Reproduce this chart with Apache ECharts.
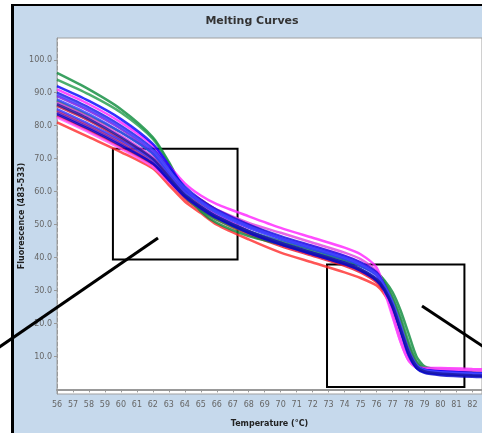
<!DOCTYPE html>
<html>
<head>
<meta charset="utf-8">
<script src="https://cdn.jsdelivr.net/npm/echarts@6/dist/echarts.min.js"></script>
<style>
  html, body { margin: 0; padding: 0; background: #fff; }
  #panel { position: absolute; left: 11px; top: 4px; width: 480px; height: 440px;
           background: #c6d9ec; border-left: 3px solid #000; border-top: 2px solid #000; }
  #chart { position: absolute; left: 0; top: 0; width: 482px; height: 433px; }
</style>
</head>
<body>
<div id="panel"></div>
<div id="chart"></div>
<script>
// temperature points (°C) shared by every curve
const temps = [56, 58, 60, 62, 63, 64, 65, 66, 68, 70, 72, 74, 75, 76, 76.5, 77, 77.5, 78, 78.5, 79, 80, 82, 84];

// fluorescence readings per sample
const red3     = [81, 76.5, 72, 67, 62, 57, 53.5, 50, 45.5, 41.5, 38.5, 35.5, 33.8, 31.5, 28.8, 24.5, 18, 11.5, 7, 5.5, 5, 4.6, 4.4];
const red2     = [83, 78.5, 73.5, 68, 63, 58, 54.5, 51.5, 47, 43.5, 40.5, 37.5, 35.5, 32.5, 29.5, 25, 18.5, 12, 7.5, 6, 5.5, 5, 4.8];
const red1     = [84.5, 80, 75, 69, 64, 59.5, 56, 53, 48, 44, 41, 38, 36, 33, 30, 25, 18.5, 11.5, 7, 5.5, 5, 4.6, 4.4];
const crimson  = [86, 81.5, 76, 70, 65, 60.5, 57.5, 54.5, 50, 46, 43, 40, 38, 34.8, 31, 26, 19, 12, 7.5, 6, 5.5, 5, 4.8];
const green1   = [96, 91, 85, 76.5, 69, 60, 54, 50.5, 46.5, 44, 41.5, 39, 37.5, 35.5, 33, 29.5, 24, 17, 10, 7, 6, 5.5, 5.2];
const green2   = [94, 89.5, 84, 76, 68.5, 60, 54.5, 51.5, 47.5, 44.5, 42, 39.5, 37.5, 35.5, 32.5, 28, 22, 14.5, 8.5, 6.5, 5.5, 5, 4.8];
const green3   = [87.5, 83, 78, 71.5, 65, 58.5, 54.5, 52, 48, 45, 42.5, 39.5, 37.5, 35, 32, 27.5, 21, 13.5, 8.2, 6.2, 5.5, 5, 4.8];
const magenta1 = [91, 86.5, 81, 74, 68, 62.5, 58.8, 56.2, 52.5, 49, 46, 43, 41, 37, 30.5, 22.5, 14.5, 8.8, 7, 6.5, 6.5, 6.2, 6];
const magenta2 = [87, 82.5, 77, 70.5, 65, 60, 57, 54.5, 50.5, 47.5, 44.5, 41.5, 39.5, 35.8, 30.5, 23.5, 15.5, 9, 6.5, 6, 6, 5.8, 5.5];
const magenta3 = [82.5, 78, 73, 67.5, 63, 58.5, 55.5, 53, 49, 46, 43.5, 40.5, 38.5, 35, 29.5, 22, 14.5, 8.8, 6.5, 6, 6, 5.8, 5.6];
const purple1  = [89, 84.5, 79, 72, 66, 60.5, 57, 54, 49.5, 46, 43, 40, 38, 35, 31, 25.5, 18, 10.5, 6.8, 6, 5.5, 5, 4.8];
const purple2  = [84, 79.5, 74.5, 68.5, 63.5, 58.5, 55, 52, 47.5, 44, 41, 38, 36, 33, 30, 25, 18, 11, 7, 5.5, 5, 4.5, 4.3];
const blue1    = [92, 87.5, 82, 74.5, 68, 61, 57, 54, 49.5, 46, 43, 40, 38, 35, 31.5, 26, 18.5, 11.5, 7.2, 6, 5.5, 5, 4.7];
const blue2    = [90, 85.5, 80, 73, 67, 61.5, 57.5, 54.5, 50, 46.5, 43.5, 40.5, 38.5, 35.5, 31.5, 25.5, 18, 10.5, 6.5, 5.3, 4.8, 4.4, 4.2];
const blue3    = [88, 83.5, 78, 71.5, 65.5, 60, 56.5, 53.5, 49, 45.5, 42.5, 39.5, 37.5, 34.5, 31, 26, 19, 11.5, 7.2, 5.8, 5.2, 4.8, 4.5];
const blue4    = [85, 80.5, 75.5, 69.5, 64, 59, 55.5, 52.5, 48, 44.5, 41.5, 38.5, 36.5, 33.5, 30.5, 25.5, 18.5, 11.5, 7, 5.3, 4.6, 4.2, 4];
const blue5    = [83.5, 79, 74, 68.5, 63.5, 58.5, 55, 52, 47.5, 44, 41, 38, 36, 33, 30, 25, 18, 11, 6.5, 5, 4.3, 3.8, 3.6];
const blue6    = [89.5, 85, 79.5, 72.5, 66.5, 61, 57, 54, 49.5, 46, 43, 40, 38, 35, 31.5, 26.5, 19.5, 12, 7.5, 5.8, 5.2, 4.8, 4.5];
const darkblue = [86.5, 82, 76.5, 70, 64.5, 59, 55.5, 52.5, 48, 44.5, 41.5, 38.5, 36.5, 33.5, 30.5, 25.5, 18.5, 11.5, 7, 5.5, 4.8, 4.3, 4];

// axis ticks
const xTicks = [56, 57, 58, 59, 60, 61, 62, 63, 64, 65, 66, 67, 68, 69, 70, 71, 72, 73, 74, 75, 76, 77, 78, 79, 80, 81, 82];
const yTicks = [10, 20, 30, 40, 50, 60, 70, 80, 90, 100];

// the two zoom boxes drawn over the plot, [tempFrom, fluoTop, tempTo, fluoBottom]
const box1 = [59.5, 73, 67.3, 39.4];
const box2 = [72.9, 37.9, 81.5, 0.7];

const curves = [
  ['red3', red3, '#ff2a2a'], ['red2', red2, '#e8102a'], ['red1', red1, '#ff3030'],
  ['crimson', crimson, '#c8103c'], ['green1', green1, '#0a8a3a'], ['green2', green2, '#1f9a4a'],
  ['green3', green3, '#2a7f4a'], ['magenta1', magenta1, '#ff20ff'], ['magenta2', magenta2, '#e040e0'],
  ['magenta3', magenta3, '#ff50ff'], ['purple1', purple1, '#7a10e0'], ['purple2', purple2, '#6020c0'],
  ['blue1', blue1, '#0000ff'], ['blue2', blue2, '#1010e0'], ['blue3', blue3, '#2a40ff'],
  ['blue4', blue4, '#3030ff'], ['blue5', blue5, '#0000c8'], ['blue6', blue6, '#4848ff'],
  ['darkblue', darkblue, '#1818a0']
];

const chart = echarts.init(document.getElementById('chart'));

const series = curves.map(([name, vals, color]) => ({
  name: name,
  type: 'line',
  data: temps.map((t, i) => [t, vals[i]]),
  symbol: 'none',
  smooth: 0.25,
  lineStyle: { color: color, width: 2.5, opacity: 0.8 },
  silent: true
}));

series.push({
  type: 'line',
  data: [],
  z: 10,
  silent: true,
  markArea: {
    silent: true,
    itemStyle: { color: 'rgba(0,0,0,0)', borderColor: '#000', borderWidth: 2 },
    data: [
      [{ xAxis: box1[0], yAxis: box1[1] }, { xAxis: box1[2], yAxis: box1[3] }],
      [{ xAxis: box2[0], yAxis: box2[1] }, { xAxis: box2[2], yAxis: box2[3] }]
    ]
  }
});

const option = {
  animation: false,
  backgroundColor: 'transparent',
  title: {
    text: 'Melting Curves',
    left: 247,
    top: 11,
    textAlign: 'center',
    textStyle: { fontFamily: 'DejaVu Sans', fontSize: 11, fontWeight: 'bold', color: '#333' }
  },
  grid: {
    left: 57, top: 38, right: 0, bottom: 35,
    show: true, backgroundColor: '#fff', borderColor: '#a0a0a0', borderWidth: 1
  },
  xAxis: {
    type: 'value',
    min: 56,
    max: 82.6,
    name: 'Temperature (°C)',
    nameLocation: 'middle',
    nameGap: 26,
    nameMoveOverlap: false,
    nameTextStyle: { fontFamily: 'DejaVu Sans', fontSize: 8, fontWeight: 'bold', color: '#222' },
    axisLine: { lineStyle: { color: '#999', width: 2 } },
    axisTick: { customValues: xTicks, length: 3, lineStyle: { color: '#999' } },
    axisLabel: { customValues: xTicks, margin: 7, fontFamily: 'DejaVu Sans', fontSize: 8, color: '#666' },
    splitLine: { show: false }
  },
  yAxis: {
    type: 'value',
    min: -1.4,
    max: 106.6,
    name: 'Fluorescence (483-533)',
    nameLocation: 'middle',
    nameGap: 31,
    nameMoveOverlap: false,
    nameTextStyle: { fontFamily: 'DejaVu Sans', fontSize: 8, fontWeight: 'bold', color: '#222' },
    axisLine: { show: true, lineStyle: { color: '#999', width: 1, type: 'dashed' } },
    axisTick: { customValues: yTicks, length: 3, lineStyle: { color: '#999' } },
    axisLabel: {
      customValues: yTicks, margin: 5, fontFamily: 'DejaVu Sans', fontSize: 8, color: '#666',
      formatter: v => v.toFixed(1)
    },
    splitLine: { show: false }
  },
  graphic: [
    { type: 'line', z: 100, shape: { x1: 158, y1: 238, x2: -2, y2: 348 }, style: { stroke: '#000', lineWidth: 3 } },
    { type: 'line', z: 100, shape: { x1: 422, y1: 306, x2: 484, y2: 347 }, style: { stroke: '#000', lineWidth: 3 } }
  ],
  series: series
};

chart.setOption(option);
</script>
</body>
</html>
